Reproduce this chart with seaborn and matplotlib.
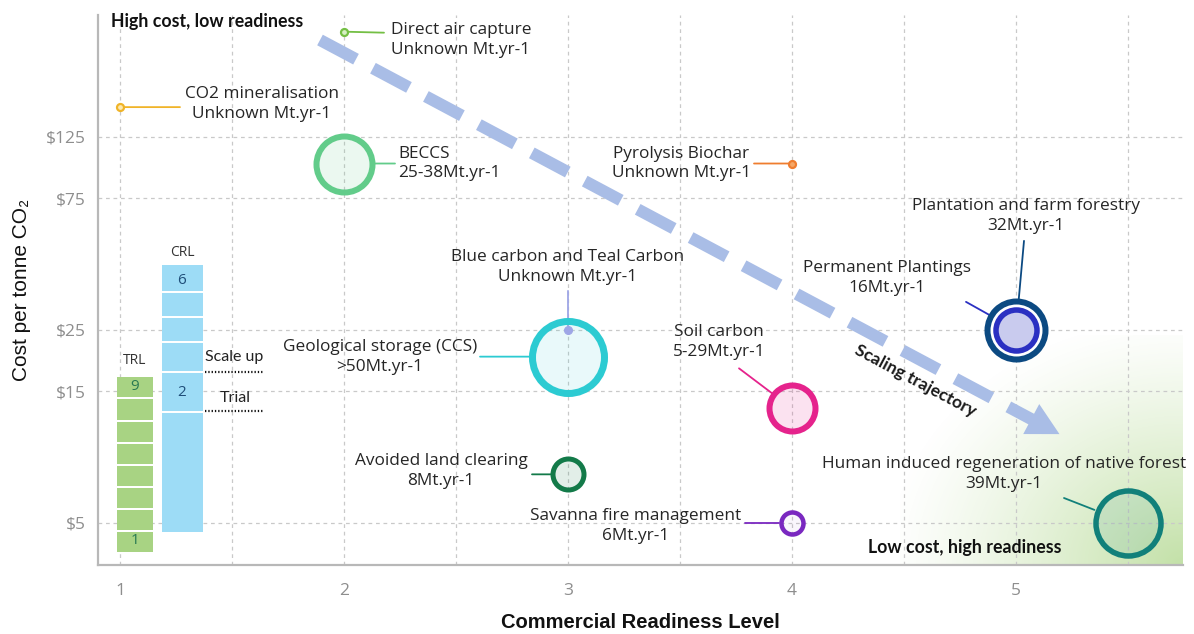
import numpy as np
import pandas as pd
import matplotlib
matplotlib.use("Agg")
import matplotlib.pyplot as plt
import seaborn as sns
from matplotlib.patches import Rectangle, Polygon
from matplotlib.colors import to_rgba
from matplotlib.ticker import NullLocator, FixedLocator

# ---------------------------------------------------------------- data
technologies = [
    "CO2 mineralisation", "Direct air capture", "BECCS", "Pyrolysis Biochar",
    "Geological storage (CCS)", "Blue carbon and Teal Carbon", "Soil carbon",
    "Avoided land clearing", "Savanna fire management",
    "Plantation and farm forestry", "Permanent Plantings",
    "Human induced regeneration of native forest",
]
readiness = [1, 2, 2, 4, 3, 3, 4, 3, 4, 5, 5, 5.5]
cost_per_tonne = [160, 300, 100, 100, 20, 25, 13, 7.5, 5, 25, 25, 5]
abatement = [
    "Unknown Mt.yr-1", "Unknown Mt.yr-1", "25-38Mt.yr-1", "Unknown Mt.yr-1",
    ">50Mt.yr-1", "Unknown Mt.yr-1", "5-29Mt.yr-1", "8Mt.yr-1", "6Mt.yr-1",
    "32Mt.yr-1", "16Mt.yr-1", "39Mt.yr-1",
]
cost_ticks = [5, 15, 25, 75, 125]
cost_tick_labels = ["$5", "$15", "$25", "$75", "$125"]
readiness_ticks = [1, 2, 3, 4, 5]
trl_labels = ["9", "1"]
crl_labels = ["6", "2"]

df = pd.DataFrame({"tech": technologies, "crl": readiness,
                   "cost": cost_per_tonne, "abatement": abatement})

# ---------------------------------------------------------------- styling
W, H, DPI = 1194, 634, 100
PT = 72 / DPI          # points per pixel

# edge colour, fill colour, radius(px), edge width(px),
# label offset(px), label ha, leader start(px), leader gap(px)
style = {
    "CO2 mineralisation": ("#f0b429", "#fde9b0", 3.5, 2.2, (142, -3), "center", (60, 0), 3),
    "Direct air capture": ("#74bf44", "#d6efc4", 3.5, 2.2, (47, 8), "left", (40, 1), 3),
    "BECCS": ("#62cc8a", to_rgba("#62cc8a", 0.12), 28, 6, (54, 0), "left", (51, 0), 31),
    "Pyrolysis Biochar": ("#ef7d2f", "#f6a766", 3.5, 2.2, (-111, 0), "center", (-38, 0), 3),
    "Geological storage (CCS)": ("#2ccbd2", to_rgba("#2ccbd2", 0.10), 36, 7, (-188, 0), "center", (-88, 0), 38),
    "Blue carbon and Teal Carbon": ("#9ea6e6", "#9ea6e6", 4, 1, (0, -63), "center", (0, -39), 4),
    "Soil carbon": ("#e5238c", to_rgba("#e5238c", 0.13), 23, 6, (-73, -66), "center", (-53, -40), 25),
    "Avoided land clearing": ("#137a49", to_rgba("#137a49", 0.12), 15.5, 5, (-127, -3), "center", (-36, 0), 17),
    "Savanna fire management": ("#7a28c0", to_rgba("#7a28c0", 0.04), 11, 4.5, (-156, 3), "center", (-47, 0), 13),
    "Plantation and farm forestry": ("#0c4a82", "white", 29, 6, (10, -114), "center", (8, -89), 31),
    "Permanent Plantings": ("#2b30c2", "#c9cbee", 20.5, 5.5, (-129, -52), "center", (-50, -28), 21),
    "Human induced regeneration of native forest": ("#11807a", to_rgba("#11807a", 0.10), 32.5, 5.5, (-124, -49), "center", (-64, -25), 36),
}

TEXT = "#262626"
GRID = "#c9c9c9"

sns.set_theme(style="white")
plt.rcParams["font.family"] = ["Open Sans", "DejaVu Sans"]
plt.rcParams["axes.unicode_minus"] = False

fig = plt.figure(figsize=(W / DPI, H / DPI), dpi=DPI)
ax_l, ax_r, ax_t, ax_b = 98, 1183, 15, 565
ax = fig.add_axes([ax_l / W, 1 - ax_b / H, (ax_r - ax_l) / W, (ax_b - ax_t) / H])


def fx(px):
    return (px - ax_l) / (ax_r - ax_l)


def fy(py):
    return (ax_b - py) / (ax_b - ax_t)


# --- axes scales
ax.set_yscale("log")
x_lo, x_hi = 1 - 22 / 224, 1 + (ax_r - 120) / 224
y_lo, y_hi = 5 * np.exp((523 - ax_b) / 120), 5 * np.exp((523 - ax_t) / 120)

# --- low-cost / high-readiness gradient corner
gx0, gy0 = 900, 335
nx, ny = 300, 240
px = np.linspace(gx0, ax_r, nx)
py = np.linspace(gy0, ax_b, ny)
PX, PY = np.meshgrid(px, py)
d = np.sqrt(((ax_r - PX) / 300) ** 2 + ((ax_b - PY) / 250) ** 2)
alpha = np.clip(1 - d, 0, 1) ** 1.2 * 0.62
img = np.zeros((ny, nx, 4))
img[..., 0], img[..., 1], img[..., 2] = 0.62, 0.81, 0.45
img[..., 3] = alpha
ax.imshow(img, extent=[fx(gx0), 1, 0, fy(gy0)], transform=ax.transAxes,
          aspect="auto", origin="upper", zorder=0.5, interpolation="bilinear")

# --- bubbles
for _, row in df.iterrows():
    edge, fill, r, ew, _, _, _, _ = style[row.tech]
    sns.scatterplot(x=[row.crl], y=[row.cost], ax=ax, s=(2 * r * PT) ** 2,
                    color=fill, edgecolor=edge, linewidth=ew * PT, zorder=4,
                    legend=False)

# --- labels and leader lines
for _, row in df.iterrows():
    edge, fill, r, ew, (tx, ty), ha, (sx, sy), gap = style[row.tech]
    ax.annotate("", xy=(row.crl, row.cost), xytext=(sx * PT, -sy * PT),
                textcoords="offset points",
                arrowprops=dict(arrowstyle="-", color=edge, lw=1.3,
                                shrinkA=0, shrinkB=gap * PT),
                zorder=3)
    ax.annotate(f"{row.tech}\n{row.abatement}", xy=(row.crl, row.cost),
                xytext=(tx * PT, -ty * PT), textcoords="offset points",
                ha=ha, va="center", multialignment="center" if ha == "center" else ha,
                fontsize=12.4, color=TEXT, linespacing=1.32, zorder=6)

# --- scaling trajectory arrow
p0, p1 = np.array([320, 40]), np.array([1033, 420])
ax.plot([fx(p0[0]), fx(p1[0])], [fy(p0[1]), fy(p1[1])], transform=ax.transAxes,
        color="#a9bde6", lw=12 * PT, linestyle=(0, (3.4, 1.6)),
        solid_capstyle="butt", dash_capstyle="butt", zorder=2)
u = (p1 - p0) / np.linalg.norm(p1 - p0)
perp = np.array([-u[1], u[0]])
tip = p1 + u * 30
base = p1 - u * 2
tri = [tip, base + perp * 17, base - perp * 17]
ax.add_patch(Polygon([(fx(a), fy(b)) for a, b in tri], closed=True,
                     transform=ax.transAxes, facecolor="#a9bde6",
                     edgecolor="none", zorder=2))
ang = -np.degrees(np.arctan2(p1[1] - p0[1], p1[0] - p0[0]))
ax.text(fx(915), fy(381), "Scaling trajectory", transform=ax.transAxes,
        rotation=ang, rotation_mode="anchor", ha="center", va="center",
        fontsize=12.5, fontweight="bold", family=["Lato", "DejaVu Sans"],
        color="#1a1a1a", zorder=6)

# --- corner captions
ax.text(fx(111), fy(22), "High cost, low readiness", transform=ax.transAxes,
        ha="left", va="center", fontsize=12.8, fontweight="bold",
        family=["Lato", "DejaVu Sans"], color="#111111", zorder=6)
ax.text(fx(868), fy(548), "Low cost, high readiness", transform=ax.transAxes,
        ha="left", va="center", fontsize=12.8, fontweight="bold",
        family=["Lato", "DejaVu Sans"], color="#111111", zorder=6)

# --- TRL / CRL scale bars
def level_bar(x0, x1, y_top, y_bot, seps, color):
    ax.add_patch(Rectangle((fx(x0), fy(y_bot)), fx(x1) - fx(x0), fy(y_top) - fy(y_bot),
                           transform=ax.transAxes, facecolor=color,
                           edgecolor="none", zorder=3))
    for s in seps:
        ax.plot([fx(x0), fx(x1)], [fy(s), fy(s)], transform=ax.transAxes,
                color="white", lw=2 * PT, zorder=3.5)


level_bar(117, 153, 377, 552, [398, 421, 443, 465, 487, 509, 531], "#a8d383")
level_bar(162, 203, 265, 532, [292, 317, 342, 372, 412], "#9ddcf6")
small = dict(transform=ax.transAxes, ha="center", va="center", zorder=6)
ax.text(fx(135), fy(360), "TRL", fontsize=10, color="#333333", **small)
ax.text(fx(182), fy(252), "CRL", fontsize=10, color="#333333", **small)
ax.text(fx(135), fy(387), trl_labels[0], fontsize=11, color="#2a7a52", **small)
ax.text(fx(135), fy(541), trl_labels[1], fontsize=11, color="#2a7a52", **small)
ax.text(fx(182), fy(281), crl_labels[0], fontsize=11, color="#1f4e79", **small)
ax.text(fx(182), fy(393), crl_labels[1], fontsize=11, color="#1f4e79", **small)
ax.text(fx(205), fy(357), "Scale up", transform=ax.transAxes, ha="left",
        va="center", fontsize=11.5, color="#222222", family=["Lato", "DejaVu Sans"], zorder=6)
ax.text(fx(220), fy(398), "Trial", transform=ax.transAxes, ha="left",
        va="center", fontsize=11.5, color="#222222", family=["Lato", "DejaVu Sans"], zorder=6)
for yy in (372, 411):
    ax.plot([fx(205), fx(263)], [fy(yy), fy(yy)], transform=ax.transAxes,
            color="#111111", lw=2.2 * PT, linestyle=(0, (0.6, 0.9)), zorder=6)

# --- axes, ticks, grid
ax.set_xlim(x_lo, x_hi)
ax.set_ylim(y_lo, y_hi)
ax.set_xticks(readiness_ticks)
ax.set_xticklabels([str(t) for t in readiness_ticks])
ax.xaxis.set_minor_locator(FixedLocator([1.5, 2.5, 3.5, 4.5, 5.5]))
ax.yaxis.set_major_locator(FixedLocator(cost_ticks))
ax.yaxis.set_minor_locator(NullLocator())
ax.set_yticklabels(cost_tick_labels)
ax.tick_params(axis="both", which="both", length=0)
ax.tick_params(axis="x", pad=13, labelsize=12.5, labelcolor="#8e8e8e")
ax.tick_params(axis="y", pad=9, labelsize=12.5, labelcolor="#8e8e8e")

ax.grid(True, axis="x", which="both", color=GRID, linestyle=(0, (3, 3)), lw=0.9)
ax.grid(True, axis="y", which="major", color=GRID, linestyle=(0, (3, 3)), lw=0.9)
ax.set_axisbelow(True)

for side in ("top", "right"):
    ax.spines[side].set_visible(False)
for side in ("left", "bottom"):
    ax.spines[side].set_color("#b8b8b8")
    ax.spines[side].set_linewidth(1.6)

ax.set_xlabel("Commercial Readiness Level", fontsize=14.5, fontweight="bold",
              family=["Liberation Sans", "DejaVu Sans"], color="#111111")
ax.xaxis.label.set_va("center")
ax.xaxis.set_label_coords(fx(640), fy(622))
ax.set_ylabel("Cost per tonne CO\u2082", fontsize=15,
              family=["Liberation Sans", "DejaVu Sans"], color="#111111")
ax.yaxis.label.set_va("center")
ax.yaxis.set_label_coords(fx(22), fy(290))

fig.savefig("out.png", dpi=DPI, facecolor="white")
